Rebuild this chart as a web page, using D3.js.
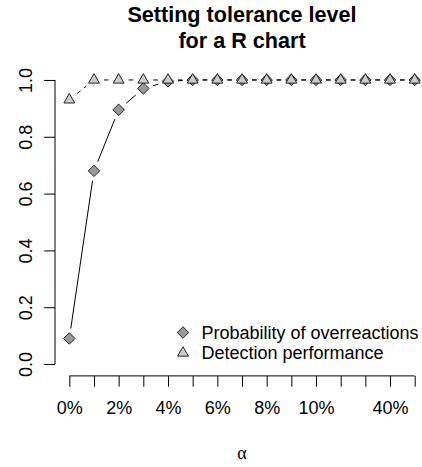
<!DOCTYPE html>
<html>
<head>
<meta charset="utf-8">
<script src="https://cdn.jsdelivr.net/npm/d3@7"></script>
<style>
  body { margin: 0; background: #fff; }
  svg text { font-family: "Liberation Sans", Arial, sans-serif; fill: #000; }
</style>
</head>
<body>
<div id="chart"></div>
<script>
// Data
var alphaLabels = ["0%", "1%", "2%", "3%", "4%", "5%", "6%", "7%", "8%", "9%", "10%", "20%", "30%", "40%", "50%"];
var shownLabels = ["0%", "2%", "4%", "6%", "8%", "10%", "40%"]; // the ones R kept (others overlap)
var overreactions = [0.09, 0.68, 0.895, 0.97, 0.995, 1, 1, 1, 1, 1, 1, 1, 1, 1, 1];
var detection = [0.93, 1, 1, 1, 1, 1, 1, 1, 1, 1, 1, 1, 1, 1, 1];
var yTicks = [0, 0.2, 0.4, 0.6, 0.8, 1.0];
var legendLabels = ["Probability of overreactions", "Detection performance"];
var titleLines = ["Setting tolerance level", "for a R chart"];

var width = 422,
  height = 467;

// plot region (R style, 4% extension on both axes)
var plot = { left: 55.5, right: 428.5, top: 68.6, bottom: 375.4 };
var n = alphaLabels.length;

var svg = d3.select("#chart")
  .append("svg")
  .attr("width", width)
  .attr("height", height);

var x = d3.scaleLinear()
  .domain([-0.04 * (n - 1), (n - 1) * 1.04])
  .range([plot.left, plot.right]);

var y = d3.scaleLinear()
  .domain([-0.04, 1.04])
  .range([plot.bottom, plot.top]);

var fontSize = 18,
  charH = 21.6,       // R line height
  tick = 10.8,
  gap = 10,           // type="b" gap around points
  s = 10.8;           // symbol size base

// Title
var cx = (plot.left + plot.right) / 2;
svg.selectAll(".title")
  .data(titleLines)
  .enter().append("text")
  .attr("class", "title")
  .attr("x", cx)
  .attr("y", function(d, i) { return 22 + i * 25.5; })
  .attr("text-anchor", "middle")
  .style("font-size", "21.6px")
  .style("font-weight", "bold")
  .text(function(d) { return d; });

// X axis
var xAxis = d3.axisBottom(x)
  .tickValues(d3.range(n))
  .tickSize(tick)
  .tickSizeOuter(0)
  .tickPadding(0)
  .tickFormat(function(i) {
    return shownLabels.indexOf(alphaLabels[i]) >= 0 ? alphaLabels[i] : "";
  });

var gx = svg.append("g")
  .attr("transform", "translate(0," + (plot.bottom + 0.5) + ")")
  .call(xAxis);
gx.select(".domain").remove();
gx.selectAll("line").attr("stroke", "#000");
gx.selectAll("text")
  .attr("y", 38.5)
  .attr("dy", 0)
  .style("font-size", fontSize + "px")
  .style("font-family", "'Liberation Sans', Arial, sans-serif");
gx.append("line")
  .attr("x1", x(0))
  .attr("x2", x(n - 1))
  .attr("stroke", "#000");

// Y axis
var yAxis = d3.axisLeft(y)
  .tickValues(yTicks)
  .tickSize(tick)
  .tickSizeOuter(0)
  .tickFormat(d3.format(".1f"));

var gy = svg.append("g")
  .attr("transform", "translate(" + (plot.left - 0.5) + ",0)")
  .call(yAxis);
gy.select(".domain").remove();
gy.selectAll("line").attr("stroke", "#000");
gy.selectAll("text")
  .attr("transform", "rotate(-90)")
  .attr("x", 0)
  .attr("y", -23)
  .attr("dy", 0)
  .attr("text-anchor", "middle")
  .style("font-size", fontSize + "px")
  .style("font-family", "'Liberation Sans', Arial, sans-serif");
gy.append("line")
  .attr("y1", y(0))
  .attr("y2", y(1))
  .attr("stroke", "#000");

// x label
svg.append("text")
  .attr("x", cx)
  .attr("y", 459)
  .attr("text-anchor", "middle")
  .style("font-family", "'Liberation Serif', 'DejaVu Serif', serif")
  .style("font-size", "18px")
  .text("\u03b1");

// symbols (R pch 23 and pch 24)
var diamondR = 0.375 * Math.SQRT2 * s;
function diamondPath(r) {
  return "M0," + (-r) + "L" + r + ",0L0," + r + "L" + (-r) + ",0Z";
}
var trR = 1.5551 * 0.375 * s,
  trX = 1.3468 * 0.375 * s,
  trY = 0.7776 * 0.375 * s;
function trianglePath() {
  return "M0," + (-trR) + "L" + trX + "," + trY + "L" + (-trX) + "," + trY + "Z";
}

// lines with gaps, like type = "b"
function gapSegments(values) {
  var segs = [];
  for (var i = 0; i < values.length - 1; i++) {
    var x1 = x(i), y1 = y(values[i]), x2 = x(i + 1), y2 = y(values[i + 1]);
    var d = Math.hypot(x2 - x1, y2 - y1);
    if (d > 2 * gap) {
      var ux = (x2 - x1) / d, uy = (y2 - y1) / d;
      segs.push([x1 + ux * gap, y1 + uy * gap, x2 - ux * gap, y2 - uy * gap]);
    }
  }
  return segs;
}

function drawSeries(values, symbol, fill, dash) {
  var g = svg.append("g");
  g.selectAll("line")
    .data(gapSegments(values))
    .enter().append("line")
    .attr("x1", function(d) { return d[0]; })
    .attr("y1", function(d) { return d[1]; })
    .attr("x2", function(d) { return d[2]; })
    .attr("y2", function(d) { return d[3]; })
    .attr("stroke", "#000")
    .attr("stroke-width", 1)
    .attr("stroke-dasharray", dash);
  g.selectAll("path")
    .data(values)
    .enter().append("path")
    .attr("d", symbol)
    .attr("transform", function(d, i) { return "translate(" + x(i) + "," + y(d) + ")"; })
    .attr("fill", fill)
    .attr("stroke", "#222")
    .attr("stroke-width", 1);
}

drawSeries(overreactions, diamondPath(diamondR), "#999999", null);
drawSeries(detection, trianglePath(), "#cccccc", "4.5,4.5");

// Legend
var legend = svg.append("g")
  .attr("transform", "translate(183,0)");
var legendY = [332.5, 353];
legend.append("path")
  .attr("d", diamondPath(diamondR))
  .attr("transform", "translate(0," + legendY[0] + ")")
  .attr("fill", "#999999")
  .attr("stroke", "#222");
legend.append("path")
  .attr("d", trianglePath())
  .attr("transform", "translate(0," + legendY[1] + ")")
  .attr("fill", "#cccccc")
  .attr("stroke", "#222");
legend.selectAll("text")
  .data(legendLabels)
  .enter().append("text")
  .attr("x", 18.5)
  .attr("y", function(d, i) { return legendY[i] + 6; })
  .style("font-size", fontSize + "px")
  .text(function(d) { return d; });
</script>
</body>
</html>
